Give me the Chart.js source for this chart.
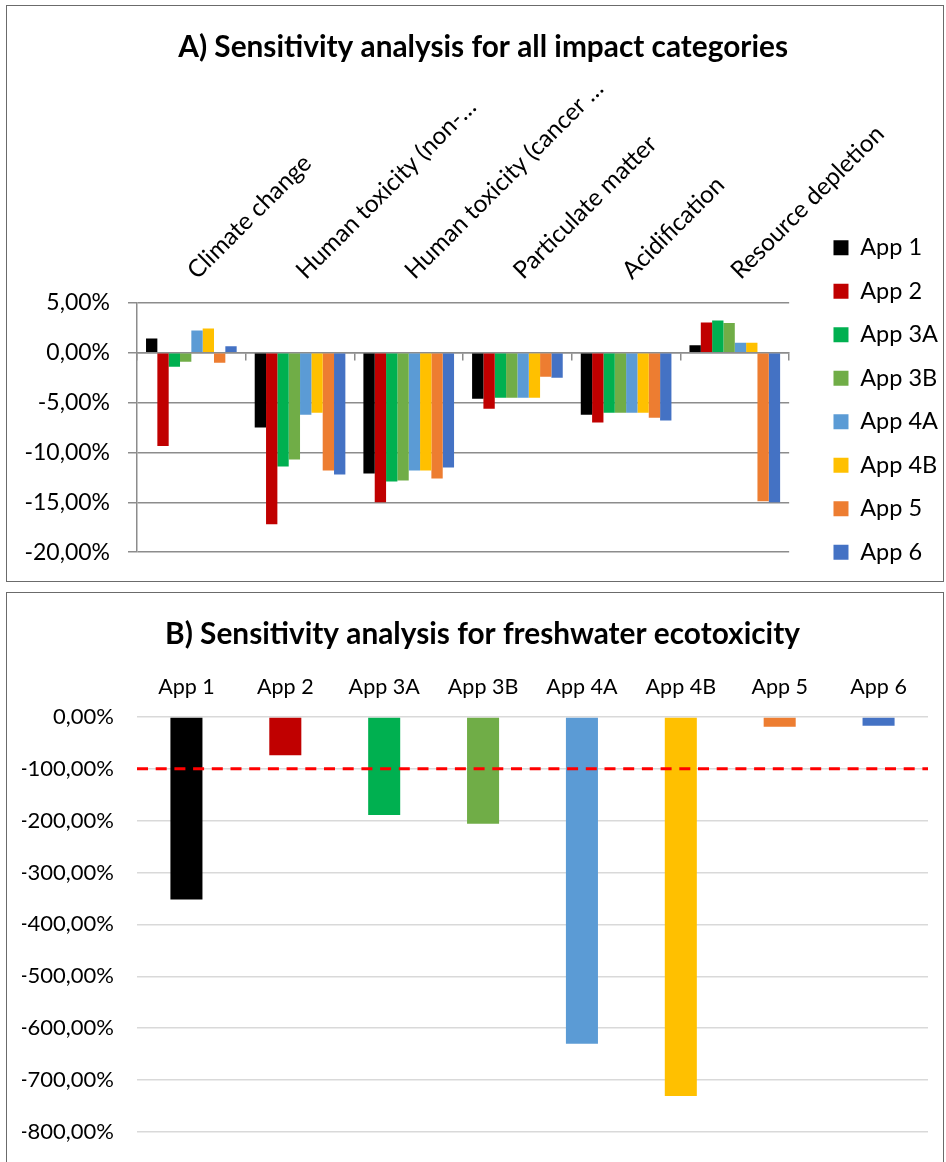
<!DOCTYPE html>
<html>
<head>
<meta charset="utf-8">
<script src="https://cdn.jsdelivr.net/npm/chart.js@4.4.1/dist/chart.umd.min.js"></script>
<style>
  html, body { margin: 0; padding: 0; background: #fff; overflow: hidden; width: 946px; height: 1162px; }
  .panel { position: absolute; left: 6px; width: 936px; border: 1px solid #6b6b6b; background: #fff; }
  #panelA { top: 5px; height: 575px; }
  #panelB { top: 592px; height: 600px; }
  canvas { position: absolute; }
  #chartA { left: 7px; top: 6px; width: 941px; height: 578px; }
  #chartB { left: 7px; top: 593px; width: 936px; height: 575px; }
</style>
</head>
<body>
<div class="panel" id="panelA"></div>
<div class="panel" id="panelB"></div>
<canvas id="chartA" width="941" height="578"></canvas>
<canvas id="chartB" width="936" height="575"></canvas>
<script>
// ---- Panel A: change per impact category (%) ----
const impactCategories = [
  'Climate change',
  'Human toxicity (non-…',
  'Human toxicity (cancer …',
  'Particulate matter',
  'Acidification',
  'Resource depletion'
];
const approaches = ['App 1', 'App 2', 'App 3A', 'App 3B', 'App 4A', 'App 4B', 'App 5', 'App 6'];

const app1  = [ 1.45,  -7.5, -12.1, -4.6, -6.2,   0.75];
const app2  = [-9.35, -17.2, -15.0, -5.6, -7.0,   3.05];
const app3A = [-1.4,  -11.4, -12.9, -4.5, -6.0,   3.25];
const app3B = [-0.9,  -10.7, -12.8, -4.5, -6.0,   3.0];
const app4A = [ 2.25,  -6.2, -11.8, -4.5, -6.0,   1.0];
const app4B = [ 2.45,  -6.0, -11.8, -4.5, -6.0,   1.0];
const app5  = [-1.0,  -11.8, -12.6, -2.4, -6.5, -14.9];
const app6  = [ 0.65, -12.2, -11.5, -2.5, -6.8, -15.0];

const impactTicks = [5, 0, -5, -10, -15, -20];

// ---- Panel B: change in freshwater ecotoxicity (%) ----
const freshwaterEcotox = [-352, -74, -189, -206, -630, -731, -19, -17];
const ecotoxTicks = [0, -100, -200, -300, -400, -500, -600, -700, -800];
const referenceLevel = -100;

const seriesColors = ['#000000', '#C00000', '#00B050', '#70AD47', '#5B9BD5', '#FFC000', '#ED7D31', '#4472C4'];

const seriesA = [app1, app2, app3A, app3B, app4A, app4B, app5, app6];

Chart.defaults.font.family = 'Lato, "Open Sans", sans-serif';
Chart.defaults.color = '#000';

const pct = v => Number(v).toFixed(2).replace('.', ',') + '%';

// dashed horizontal reference line across the plot area
const referenceLinePlugin = {
  id: 'referenceLine',
  afterDatasetsDraw(chart, args, opts) {
    if (opts.value === undefined) return;
    const { ctx, chartArea, scales } = chart;
    const py = scales.y.getPixelForValue(opts.value);
    ctx.save();
    ctx.strokeStyle = opts.color;
    ctx.lineWidth = opts.width;
    ctx.setLineDash(opts.dash);
    ctx.beginPath();
    ctx.moveTo(chartArea.left, py);
    ctx.lineTo(chartArea.right, py);
    ctx.stroke();
    ctx.restore();
  }
};

// hidden axis used only to reserve space beside the plot
const spacer = (position, size) => ({
  type: position === 'bottom' ? 'category' : 'linear',
  position,
  grid: { display: false, drawTicks: false },
  border: { display: false },
  ticks: { display: false },
  afterFit: s => { if (position === 'bottom') s.height = size; else s.width = size; }
});

new Chart(document.getElementById('chartA'), {
  type: 'bar',
  data: {
    labels: impactCategories,
    datasets: approaches.map((name, i) => ({
      label: name,
      data: seriesA[i],
      backgroundColor: seriesColors[i],
      borderWidth: 0,
      categoryPercentage: 0.834,
      barPercentage: 1.0,
      xAxisID: 'x',
      yAxisID: 'y'
    }))
  },
  options: {
    responsive: false,
    animation: false,
    layout: { padding: { left: 11.25, right: 0, top: 0, bottom: 0 } },
    plugins: {
      title: {
        display: true,
        text: 'A) Sensitivity analysis for all impact categories',
        font: { size: 29.8, weight: 'bold' },
        color: '#000',
        padding: { top: 23.1, bottom: 0 }
      },
      legend: {
        position: 'right',
        align: 'end',
        labels: { boxWidth: 15, boxHeight: 15, padding: 20, font: { size: 23.5 }, color: '#000' }
      },
      tooltip: { enabled: false }
    },
    scales: {
      xTop: {
        type: 'category',
        position: 'top',
        offset: true,
        grid: { display: false, drawTicks: false },
        border: { display: false },
        ticks: { autoSkip: false, minRotation: 45, maxRotation: 45, padding: 18, labelOffset: 21, font: { size: 24.3 }, color: '#000' },
        afterFit: s => { s.height = 238.14; }
      },
      x: {
        type: 'category',
        position: { y: 0 },
        offset: true,
        grid: { display: true, drawOnChartArea: false, drawTicks: true, tickLength: 7, offset: true, color: '#8c8c8c', lineWidth: 1.5 },
        border: { display: true, color: '#8c8c8c', width: 1.5 },
        ticks: { display: false }
      },
      xGap: spacer('bottom', 31),
      y: {
        position: 'left',
        min: -20,
        max: 5,
        afterBuildTicks: s => { s.ticks = impactTicks.map(v => ({ value: v })); },
        grid: { color: '#8c8c8c', lineWidth: 1.5, drawTicks: true, tickLength: 9 },
        border: { display: true, color: '#8c8c8c', width: 1.5 },
        ticks: { padding: 18, font: { size: 23 }, color: '#000', callback: v => pct(v) },
        afterFit: s => { s.width = 118.75; }
      },
      yGap: spacer('right', 24.35)
    }
  }
});

new Chart(document.getElementById('chartB'), {
  type: 'bar',
  data: {
    labels: approaches,
    datasets: [{
      label: 'Freshwater ecotoxicity',
      data: freshwaterEcotox,
      backgroundColor: seriesColors,
      borderWidth: 0,
      categoryPercentage: 1.0,
      barPercentage: 0.324
    }]
  },
  plugins: [referenceLinePlugin],
  options: {
    responsive: false,
    animation: false,
    layout: { padding: { left: 15, right: 0, top: 0, bottom: 30 } },
    plugins: {
      title: {
        display: true,
        text: 'B) Sensitivity analysis for freshwater ecotoxicity',
        font: { size: 29.8, weight: 'bold' },
        color: '#000',
        padding: { top: 23.1, bottom: 0 }
      },
      legend: { display: false },
      tooltip: { enabled: false },
      referenceLine: { value: referenceLevel, color: '#ff0000', width: 3, dash: [11, 7.7] }
    },
    scales: {
      x: {
        type: 'category',
        position: 'top',
        offset: true,
        grid: { display: false, drawTicks: false },
        border: { display: false },
        ticks: { autoSkip: false, maxRotation: 0, padding: 17.1, font: { size: 21.5 }, color: '#000' },
        afterFit: s => { s.height = 65.14; }
      },
      y: {
        min: -800,
        max: 0,
        afterBuildTicks: s => { s.ticks = ecotoxTicks.map(v => ({ value: v })); },
        grid: { color: '#d9d9d9', lineWidth: 1.5, drawTicks: false },
        border: { display: false },
        ticks: { padding: 23, font: { size: 22 }, color: '#000', callback: v => pct(v) },
        afterFit: s => { s.width = 115; }
      },
      yGap: spacer('right', 15)
    }
  }
});
</script>
</body>
</html>
